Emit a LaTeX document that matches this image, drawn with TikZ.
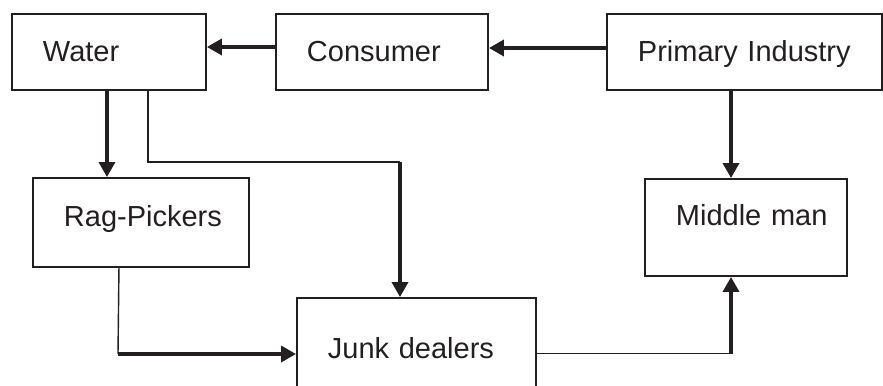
\documentclass[tikz,border=0pt]{standalone}
\usepackage{fontspec}
\setmainfont{Liberation Sans}
\usetikzlibrary{arrows.meta}
\definecolor{ink}{HTML}{231F20}

\tikzset{
  box/.style={draw=ink, line width=1.1pt, anchor=base west, inner xsep=0pt, inner ysep=0pt,
    align=left, text=ink, font=\fontsize{16.5}{19}\selectfont,
    execute at begin node={\hspace*{0.62cm}}},
  boxsize/.style n args={3}{text width=#1, text height=#2, text depth=#3},
  flow/.style={draw=ink, line width=2pt, -{Triangle[length=0.3cm,width=0.32cm]}},
  link/.style={draw=ink, line width=0.8pt},
}

\begin{document}
\begin{tikzpicture}
\useasboundingbox (0,0) rectangle (17.66,7.70);
\clip (0,0) rectangle (17.66,7.70);

% Top row
\node[box, boxsize={3.88cm}{0.95cm}{0.57cm}] (water) at (0.22,6.47) {Water};
\node[box, boxsize={4.24cm}{0.96cm}{0.56cm}] (cons) at (5.50,6.46) {Consumer};
\node[box, boxsize={5.50cm}{0.96cm}{0.56cm}] (prim) at (12.12,6.46) {Primary Industry};

% Middle row
\node[box, boxsize={4.32cm}{0.96cm}{0.82cm}] (rag) at (0.64,3.18) {Rag-Pickers};
\node[box, boxsize={4.04cm}{0.92cm}{1.02cm}] (mid) at (12.88,3.20) {Middle man};

% Bottom
\node[box, boxsize={4.78cm}{1.20cm}{1.40cm}] (junk) at (5.92,0.54) {Junk dealers};

% Bends
\coordinate (wj) at (8.00,4.46);
\coordinate (rj) at (2.36,0.62);
\coordinate (jm) at (14.62,0.63);

% Arrows along the top
\draw[flow] ([yshift=0.08cm]prim.west) -- ([yshift=0.08cm]cons.east);
\draw[flow] ([yshift=0.1cm]cons.west) -- ([yshift=0.1cm]water.east);

% Water to Rag-Pickers and Junk dealers
\draw[flow] ([xshift=-0.04cm]water.south) -- ([xshift=-0.04cm]water.south |- rag.north);
\draw[link] ([xshift=0.78cm]water.south) |- (wj);
\draw[flow] (wj) -- (wj |- junk.north);

% Rag-Pickers to Junk dealers
\draw[link] ([xshift=-0.44cm]rag.south) -- (rj);
\draw[flow] (rj) -- (rj -| junk.west);

% Junk dealers and Primary Industry to Middle man
\draw[link] (junk.east |- jm) -- (jm);
\draw[flow] (jm) -- (jm |- mid.south);
\draw[flow] (jm |- prim.south) -- (jm |- mid.north);
\end{tikzpicture}
\end{document}
